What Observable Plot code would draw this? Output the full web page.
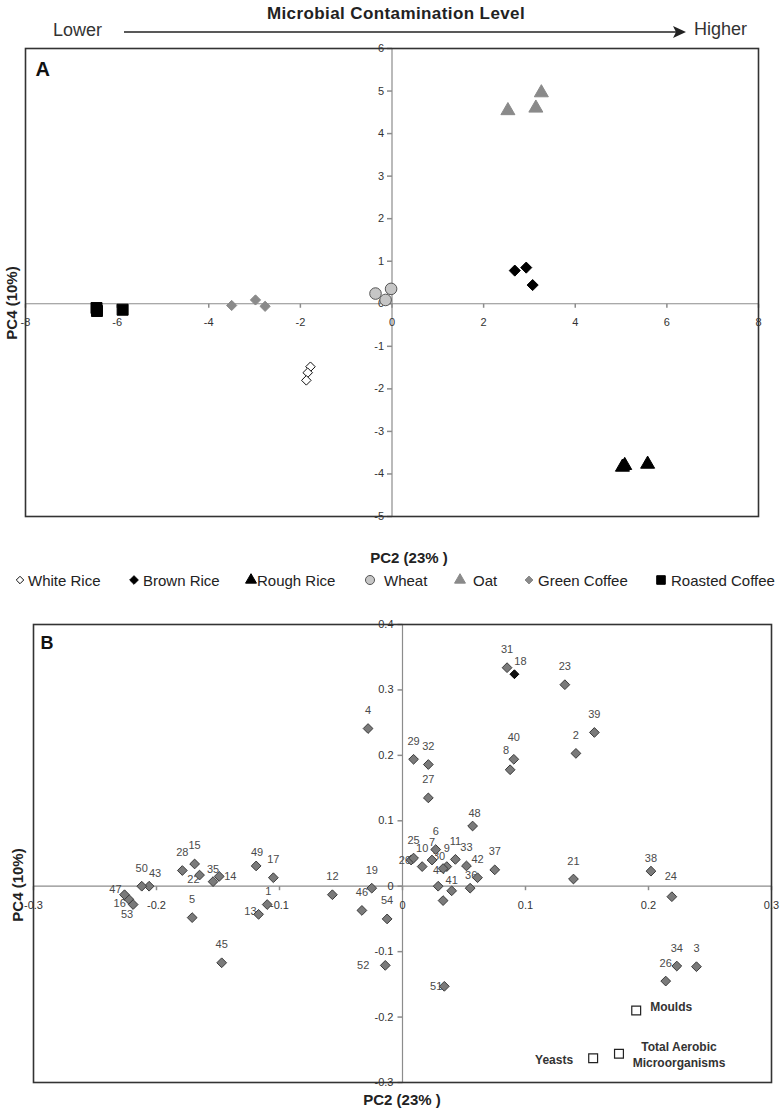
<!DOCTYPE html>
<html><head><meta charset="utf-8">
<script src="https://cdn.jsdelivr.net/npm/d3@7"></script>
<script src="https://cdn.jsdelivr.net/npm/@observablehq/plot@0.6"></script>
<style>
body{margin:0;background:#fff;font-family:"Liberation Sans",Arial,sans-serif;}
#wrap{position:relative;width:784px;height:1113px;overflow:hidden;background:#fff;}
.abs{position:absolute;white-space:nowrap;color:#222;line-height:1;}
#wrap svg{position:absolute;left:0;}
</style></head><body><div id="wrap"></div>
<script>
// ---------------- DATA ----------------
// Panel A: sample scores (PC2 vs PC4)
const groupsA = ["White Rice","Brown Rice","Rough Rice","Wheat","Oat","Green Coffee","Roasted Coffee"];
const groupA = ["White Rice","White Rice","White Rice",
  "Brown Rice","Brown Rice","Brown Rice",
  "Rough Rice","Rough Rice","Rough Rice",
  "Wheat","Wheat","Wheat",
  "Oat","Oat","Oat",
  "Green Coffee","Green Coffee","Green Coffee",
  "Roasted Coffee","Roasted Coffee","Roasted Coffee"];
const pc2A = [-1.78,-1.84,-1.87, 2.68,2.93,3.07, 5.03,5.08,5.58, -0.36,-0.14,-0.02, 2.53,3.14,3.26, -3.50,-2.98,-2.77, -6.45,-6.44,-5.88];
const pc4A = [-1.48,-1.62,-1.80, 0.78,0.85,0.44, -3.84,-3.80,-3.77, 0.24,0.09,0.35, 4.54,4.60,4.96, -0.04,0.09,-0.06, -0.10,-0.17,-0.14];
const xTicksA = [-8,-6,-4,-2,0,2,4,6,8];
const yTicksA = [-5,-4,-3,-2,-1,0,1,2,3,4,5,6];

// Panel B: green coffee samples + microbial variables
const sampleB = ["1","2","3","4","5","6","7","8","9","10","11","12","13","14","15","16","17","18","19","20",
  "21","22","23","24","25","26","27","28","29","30","31","32","33","34","35","36","37","38","39","40",
  "41","42","43","44","45","46","47","48","49","50","51","52","53","54",""];
const pc2B = [-0.110,0.141,0.239,-0.028,-0.171,0.027,0.024,0.0875,0.036,0.016,0.043,-0.057,-0.117,-0.149,-0.169,-0.2225,-0.105,0.091,-0.025,0.007,
  0.139,-0.165,0.132,0.219,0.009,0.214,0.021,-0.179,0.009,0.033,0.085,0.021,0.052,0.223,-0.154,0.055,0.075,0.202,0.156,0.0905,
  0.040,0.061,-0.206,0.029,-0.147,-0.033,-0.226,0.057,-0.119,-0.212,0.034,-0.014,-0.219,-0.0125,0.033];
const pc4B = [-0.028,0.203,-0.123,0.241,-0.048,0.056,0.040,0.178,0.030,0.030,0.041,-0.013,-0.043,0.015,0.034,-0.020,0.013,0.324,-0.003,0.040,
  0.011,0.017,0.308,-0.016,0.043,-0.145,0.135,0.024,0.194,0.027,0.334,0.186,0.031,-0.122,0.007,-0.003,0.025,0.023,0.235,0.194,
  -0.007,0.013,0.000,0.000,-0.117,-0.037,-0.013,0.092,0.031,0.000,-0.153,-0.121,-0.028,-0.050,-0.022];
const darkSamplesB = ["18"];
const varNames = ["Moulds","Yeasts","Total Aerobic Microorganisms"];
const varPC2 = [0.190,0.155,0.176];
const varPC4 = [-0.190,-0.263,-0.256];
const xTicksB = [-0.3,-0.2,-0.1,0,0.1,0.2,0.3];
const yTicksB = [-0.3,-0.2,-0.1,0,0.1,0.2,0.3,0.4];

// ---------------- LAYOUT / STYLE ----------------
const FONT = '"Liberation Sans", Arial, sans-serif';
const wrap = document.getElementById("wrap");
function addText(txt, x, y, {size=15, weight="normal", anchor="middle", color="#222", rotate=0, spacing=0}={}) {
  const el = document.createElement("div");
  el.className = "abs";
  el.textContent = txt;
  el.style.fontSize = size + "px";
  el.style.fontWeight = weight;
  el.style.color = color;
  if (spacing) el.style.letterSpacing = spacing + "px";
  el.style.left = x + "px";
  el.style.top = y + "px";
  const tx = anchor === "middle" ? "-50%" : anchor === "end" ? "-100%" : "0";
  el.style.transform = `translate(${tx},-50%)` + (rotate ? ` rotate(${rotate}deg)` : "");
  el.style.transformOrigin = "center center";
  wrap.appendChild(el);
  return el;
}

// Header
addText("Microbial Contamination Level", 396, 13, {size:17, weight:"bold", spacing:0.4});
addText("Lower", 53, 30, {size:18, anchor:"start", color:"#333"});
addText("Higher", 694, 29, {size:18, anchor:"start", color:"#333"});
const NS = "http://www.w3.org/2000/svg";
const arr = document.createElementNS(NS, "svg");
arr.setAttribute("width", 784); arr.setAttribute("height", 50);
arr.style.top = "0px";
arr.innerHTML = `<line x1="124" y1="32" x2="676" y2="32" stroke="#222" stroke-width="1.6"/>
<path d="M686,32 L673,26 L676,32 L673,38 Z" fill="#222"/>`;
wrap.appendChild(arr);

// custom tick symbols
const tickDown = {draw(ctx){ ctx.moveTo(0,0); ctx.lineTo(0,4); }};
const tickLeft = {draw(ctx){ ctx.moveTo(0,0); ctx.lineTo(-5,0); }};
const axisColor = "#8c8c8c";

// ---------------- PANEL A ----------------
const dataA = pc2A.map((x,i) => ({group: groupA[i], x, y: pc4A[i]}));
const styleA = {
  "White Rice":     {symbol:"diamond2", fill:"#fff",    stroke:"#111",   r:4.3, sw:1},
  "Brown Rice":     {symbol:"diamond2", fill:"#000",    stroke:"#000",   r:5.0, sw:1},
  "Rough Rice":     {symbol:"triangle", fill:"#000",    stroke:"#000",   r:5.2, sw:1},
  "Wheat":          {symbol:"circle",   fill:"#c6c6c6", stroke:"#555",   r:5.8, sw:1},
  "Oat":            {symbol:"triangle", fill:"#8a8a8a", stroke:"#8a8a8a",r:5.2, sw:1},
  "Green Coffee":   {symbol:"diamond2", fill:"#8a8a8a", stroke:"#8a8a8a",r:4.6, sw:1},
  "Roasted Coffee": {symbol:"square",   fill:"#000",    stroke:"#000",   r:6.2, sw:1}
};
const plotA = Plot.plot({
  width: 784, height: 525,
  marginTop: 8, marginBottom: 49, marginLeft: 25, marginRight: 26,
  x: {domain: [-8, 8], axis: null},
  y: {domain: [-5, 6], axis: null},
  style: {fontFamily: FONT, background: "transparent", overflow: "visible"},
  marks: [
    Plot.ruleX([0], {stroke: axisColor, strokeWidth: 1.2}),
    Plot.ruleY([0], {stroke: axisColor, strokeWidth: 1.2}),
    Plot.dot(xTicksA, {x: d => d, y: () => 0, symbol: tickDown, fill: "none", stroke: axisColor}),
    Plot.dot(yTicksA, {x: () => 0, y: d => d, symbol: tickLeft, fill: "none", stroke: axisColor}),
    Plot.text(xTicksA, {x: d => d, y: () => 0, text: d => String(d), dy: 19, fontSize: 11, fill: "#333"}),
    Plot.text(yTicksA, {x: () => 0, y: d => d, text: d => String(d), dx: -8, textAnchor: "end", fontSize: 11, fill: "#333"}),
    ...groupsA.map(g => Plot.dot(dataA.filter(d => d.group === g), {
      x: "x", y: "y", symbol: styleA[g].symbol, r: styleA[g].r,
      fill: styleA[g].fill, stroke: styleA[g].stroke, strokeWidth: styleA[g].sw
    })),
    Plot.frame({stroke: "#333", strokeWidth: 1.6}),
    Plot.text(["A"], {frameAnchor: "top-left", text: d => d, dx: 10, dy: 13, lineAnchor: "top", fontSize: 20, fontWeight: "bold", fill: "#111"})
  ]
});
plotA.style.top = "40px";
wrap.appendChild(plotA);

addText("PC2 (23% )", 409, 557, {size:15, weight:"bold"});
addText("PC4 (10%)", 11, 303, {size:15, weight:"bold", rotate:-90});

// Legend
const legendSymX = [20, 134, 251, 370, 460, 529, 661];
const legendTxtX = [28, 143, 257, 384, 473, 538, 671];
const symMap = {diamond2: d3.symbolDiamond2, triangle: d3.symbolTriangle, circle: d3.symbolCircle, square: d3.symbolSquare};
groupsA.forEach((g, i) => {
  const s = styleA[g];
  const sv = document.createElementNS(NS, "svg");
  sv.setAttribute("width", 16); sv.setAttribute("height", 16);
  sv.style.left = (legendSymX[i] - 8) + "px";
  sv.style.top = (580 - 8) + "px";
  const rr = s.r * 0.78;
  const path = d3.symbol(symMap[s.symbol], Math.PI * rr * rr)();
  sv.innerHTML = `<path transform="translate(8,8)" d="${path}" fill="${s.fill}" stroke="${s.stroke}" stroke-width="1"/>`;
  wrap.appendChild(sv);
  addText(g, legendTxtX[i], 580, {size:15, anchor:"start", color:"#222"});
});

// ---------------- PANEL B ----------------
const dataB = sampleB.map((label, i) => ({label, x: pc2B[i], y: pc4B[i]}));
const varData = varNames.map((name, i) => ({name, x: varPC2[i], y: varPC4[i]}));
// label placement [textAnchor, dx, dy]
const defaultPlace = ["middle", 0, -18];
const placeB = {
  "18": ["middle", 6, -13], "43": ["middle", 6, -13], "35": ["middle", 0, -12],
  "49": ["middle", 1, -13], "1": ["middle", 1, -13], "36": ["middle", 1, -13],
  "41": ["middle", 0, -10], "48": ["middle", 2, -13], "38": ["middle", 0, -13],
  "14": ["start", 5, 0], "51": ["end", -2, 0], "52": ["end", -16, 0],
  "47": ["end", -3, -5], "16": ["end", -3, 4], "20": ["end", 0, 0],
  "13": ["end", -2, -3], "22": ["end", 0, 4], "53": ["middle", -6, 10],
  "30": ["middle", -4, -12], "8": ["middle", -4, -19], "40": ["middle", 0, -22],
  "44": ["middle", 1, -16], "24": ["middle", -1, -20]
};
const labelMarks = d3.groups(dataB.filter(d => d.label !== ""), d => (placeB[d.label] || defaultPlace).join("|"))
  .map(([k, arr]) => {
    const [anchor, dx, dy] = k.split("|");
    return Plot.text(arr, {x: "x", y: "y", text: "label", textAnchor: anchor, dx: +dx, dy: +dy, fontSize: 11, fill: "#4a4a4a"});
  });
const varLabel = d => d.name === "Total Aerobic Microorganisms" ? "Total Aerobic\nMicroorganisms" : d.name;
const plotB = Plot.plot({
  width: 784, height: 490,
  marginTop: 8, marginBottom: 24, marginLeft: 33, marginRight: 13,
  x: {domain: [-0.3, 0.3], axis: null},
  y: {domain: [-0.3, 0.4], axis: null},
  style: {fontFamily: FONT, background: "transparent", overflow: "visible"},
  marks: [
    Plot.ruleX([0], {stroke: axisColor, strokeWidth: 1.2}),
    Plot.ruleY([0], {stroke: axisColor, strokeWidth: 1.2}),
    Plot.dot(xTicksB, {x: d => d, y: () => 0, symbol: tickDown, fill: "none", stroke: axisColor}),
    Plot.dot(yTicksB, {x: () => 0, y: d => d, symbol: tickLeft, fill: "none", stroke: axisColor}),
    Plot.text(xTicksB, {x: d => d, y: () => 0, text: d => String(d), dy: 19, fontSize: 11, fill: "#333"}),
    Plot.text(yTicksB, {x: () => 0, y: d => d, text: d => String(d), dx: -9, textAnchor: "end", fontSize: 11, fill: "#333"}),
    ...labelMarks,
    Plot.dot(dataB.filter(d => !darkSamplesB.includes(d.label)), {x: "x", y: "y", symbol: "diamond2", r: 4.4, fill: "#7a7a7a", stroke: "#3a3a3a", strokeWidth: 1}),
    Plot.dot(dataB.filter(d => darkSamplesB.includes(d.label)), {x: "x", y: "y", symbol: "diamond2", r: 4.0, fill: "#111", stroke: "#000", strokeWidth: 1}),
    Plot.dot(varData, {x: "x", y: "y", symbol: "square", r: 5, fill: "#fff", stroke: "#222", strokeWidth: 1.2}),
    Plot.text(varData.filter(d => d.name === "Moulds"), {x: "x", y: "y", text: varLabel, textAnchor: "start", dx: 14, dy: -3, fontSize: 12, fontWeight: "bold", fill: "#333"}),
    Plot.text(varData.filter(d => d.name === "Yeasts"), {x: "x", y: "y", text: varLabel, textAnchor: "end", dx: -20, dy: 2, fontSize: 12, fontWeight: "bold", fill: "#333"}),
    Plot.text(varData.filter(d => d.name === "Total Aerobic Microorganisms"), {x: "x", y: "y", text: varLabel, textAnchor: "middle", dx: 60, dy: 0, lineHeight: 1.4, fontSize: 12, fontWeight: "bold", fill: "#333"}),
    Plot.frame({stroke: "#333", strokeWidth: 1.6}),
    Plot.text(["B"], {frameAnchor: "top-left", text: d => d, dx: 7, dy: 12, lineAnchor: "top", fontSize: 18, fontWeight: "bold", fill: "#111"})
  ]
});
plotB.style.top = "616px";
wrap.appendChild(plotB);

addText("PC2 (23% )", 402, 1099, {size:15, weight:"bold"});
addText("PC4 (10%)", 17, 885, {size:15, weight:"bold", rotate:-90});
</script></body></html>
